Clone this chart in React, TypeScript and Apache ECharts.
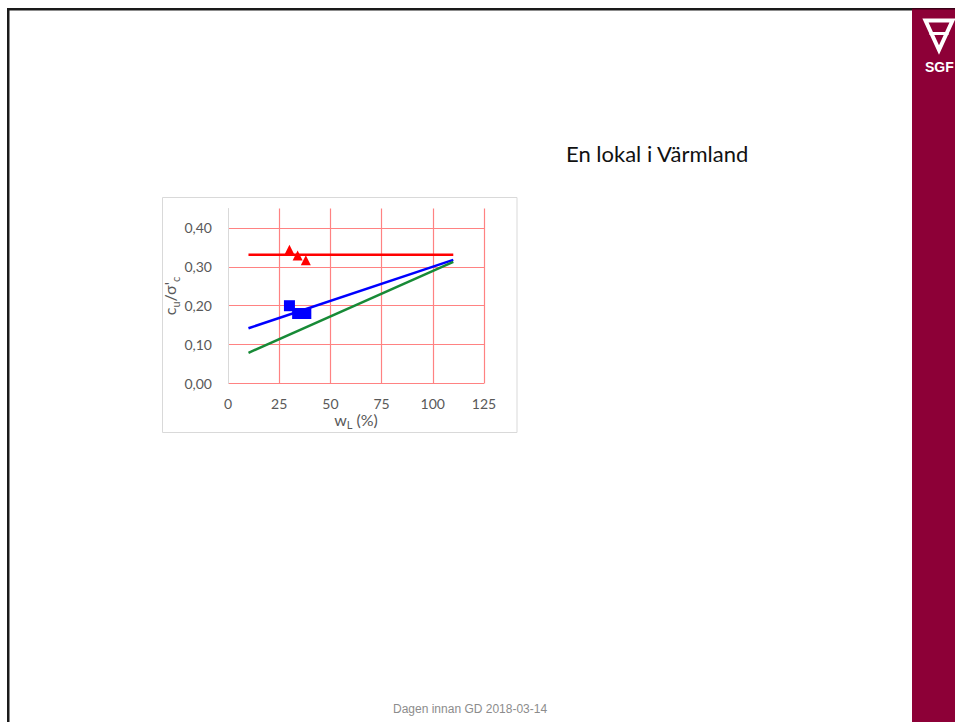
import React, { useEffect, useRef } from "react";
import * as echarts from "echarts";

// ---- data ----
const xTicks = [0, 25, 50, 75, 100, 125];
const yTicks = [0, 0.1, 0.2, 0.3, 0.4];
const redLine = [[10, 0.331], [110, 0.331]];
const blueLine = [[10, 0.142], [110, 0.318]];
const greenLine = [[10, 0.079], [110, 0.313]];
const redTriangles = [[30, 0.344], [34, 0.329], [38, 0.317]];
const blueSquares = [[30, 0.2], [34, 0.18], [38, 0.18]];
const slideTitle = "En lokal i Värmland";
const footerText = "Dagen innan GD 2018-03-14";
const logoText = "SGF";

const GRID_RED = "#ff8282";
const LABEL = "#595959";
const FONT = "Lato";

export default function App() {
  const ref = useRef<HTMLDivElement>(null);
  useEffect(() => {
    document.body.style.margin = "0";
    document.body.style.overflow = "hidden";
    const chart = echarts.init(ref.current!, undefined, { renderer: "svg" });
    const nameRich = {
      a: { color: LABEL, fontFamily: FONT, fontSize: 16, verticalAlign: "top" },
      s: { color: LABEL, fontFamily: FONT, fontSize: 11, verticalAlign: "bottom", padding: [8, 0, 0, 0] },
    };
    chart.setOption({
      animation: false,
      backgroundColor: "#ffffff",
      grid: { left: 228, right: 471, top: 208.5, bottom: 338.5, containLabel: false },
      xAxis: {
        type: "value",
        min: xTicks[0],
        max: xTicks[xTicks.length - 1],
        interval: xTicks[1] - xTicks[0],
        axisLine: { show: false },
        axisTick: { show: false },
        axisLabel: { color: LABEL, fontFamily: FONT, fontSize: 14, margin: 13 },
        splitLine: { show: true, showMinLine: false, lineStyle: { color: GRID_RED, width: 1.2 } },
        name: "{a|w}{s|L}{a| (%)}",
        nameLocation: "middle",
        nameGap: 27,
        nameTextStyle: { rich: nameRich },
      },
      yAxis: {
        type: "value",
        min: 0,
        max: 0.45,
        interval: yTicks[1] - yTicks[0],
        axisLine: { show: true, lineStyle: { color: "#d9d9d9", width: 1 } },
        axisTick: { show: false },
        axisLabel: {
          color: LABEL,
          fontFamily: FONT,
          fontSize: 14,
          margin: 16,
          showMaxLabel: false,
          formatter: (v: number) => v.toFixed(2).replace(".", ","),
        },
        splitLine: { show: true, showMaxLine: false, lineStyle: { color: GRID_RED, width: 1.2 } },
        name: "{a|c}{s|u}{a|/σ'}{s|c}",
        nameLocation: "middle",
        nameGap: 41,
        nameRotate: 90,
        nameTextStyle: { rich: nameRich },
      },
      series: [
        { type: "line", data: redLine, symbol: "none", lineStyle: { color: "#ff0000", width: 2.5 }, z: 2 },
        { type: "line", data: blueLine, symbol: "none", lineStyle: { color: "#0000ff", width: 2.5 }, z: 2 },
        { type: "line", data: greenLine, symbol: "none", lineStyle: { color: "#178a36", width: 2.5 }, z: 2 },
        { type: "scatter", data: redTriangles, symbol: "triangle", symbolSize: 10, itemStyle: { color: "#ff0000", opacity: 1 }, z: 3 },
        { type: "scatter", data: blueSquares, symbol: "rect", symbolSize: 11, itemStyle: { color: "#0000ff", opacity: 1 }, z: 3 },
      ],
      graphic: [
        // slide border
        { type: "rect", shape: { x: 7, y: 8, width: 2.5, height: 714 }, style: { fill: "#1a1a1a" }, silent: true },
        { type: "rect", shape: { x: 7, y: 8, width: 905, height: 2.5 }, style: { fill: "#1a1a1a" }, silent: true },
        // right band
        { type: "rect", shape: { x: 912, y: 8, width: 43, height: 714 }, style: { fill: "#8d0037" }, silent: true },
        { type: "rect", shape: { x: 912, y: 8, width: 43, height: 1.5 }, style: { fill: "#3a0016" }, silent: true },
        // logo
        {
          type: "polygon",
          shape: { points: [[925.5, 20.5], [952.5, 20.5], [939, 50]] },
          style: { fill: "none", stroke: "#ffffff", lineWidth: 4, lineJoin: "miter" },
          silent: true,
        },
        { type: "line", shape: { x1: 929.5, y1: 33.5, x2: 948.5, y2: 33.5 }, style: { stroke: "#ffffff", lineWidth: 3 }, silent: true },
        {
          type: "text",
          x: 925,
          y: 67,
          style: { text: logoText, fill: "#ffffff", font: "bold 14px 'Liberation Sans', Arial, sans-serif", verticalAlign: "middle", align: "left" },
          silent: true,
        },
        // chart frame
        { type: "rect", shape: { x: 162.5, y: 197.5, width: 354.5, height: 235 }, style: { fill: "none", stroke: "#d9d9d9", lineWidth: 1 }, z: -1, silent: true },
        // title
        {
          type: "text",
          x: 566,
          y: 153,
          style: { text: slideTitle, fill: "#111111", font: "22px Lato, sans-serif", verticalAlign: "middle", align: "left" },
          silent: true,
        },
        // footer
        {
          type: "text",
          x: 393,
          y: 708.5,
          style: { text: footerText, fill: "#8c8c8c", font: "12px 'Liberation Sans', Arial, sans-serif", verticalAlign: "middle", align: "left" },
          silent: true,
        },
      ],
    });
    return () => chart.dispose();
  }, []);
  return <div ref={ref} style={{ position: "absolute", left: 0, top: 0, width: 955, height: 722 }} />;
}
